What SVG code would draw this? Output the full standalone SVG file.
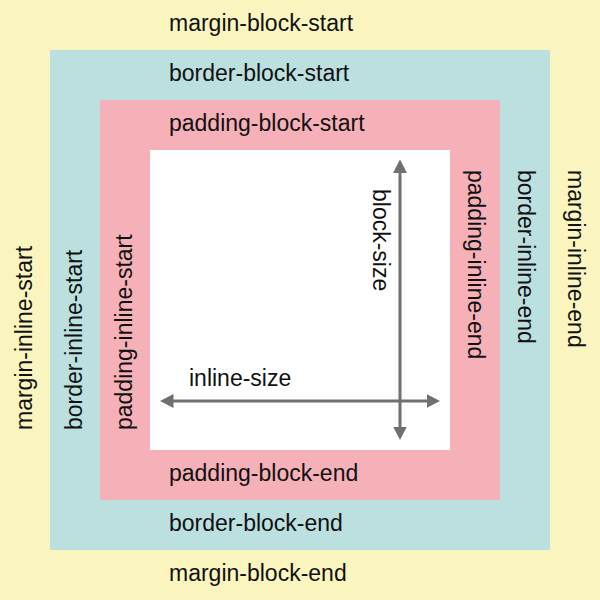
<svg xmlns="http://www.w3.org/2000/svg" width="600" height="600" viewBox="0 0 600 600">
  <style>
    text { font-family: "Liberation Sans", Arial, sans-serif; font-size: 23px; fill: #111111; }
    .arrow { stroke: #707070; stroke-width: 3; fill: none; }
  </style>
  <defs>
    <marker id="head" viewBox="0 0 14 14" markerUnits="userSpaceOnUse" markerWidth="14" markerHeight="14" refX="6.5" refY="7" orient="auto-start-reverse">
      <path d="M0,0 L13.5,7 L0,14 z" fill="#707070"/>
    </marker>
  </defs>

  <g id="margin">
    <rect x="0" y="0" width="600" height="600" fill="#FAF5BF"/>
    <text x="169" y="31">margin-block-start</text>
    <text x="169" y="581">margin-block-end</text>
    <text transform="translate(32,430) rotate(-90)">margin-inline-start</text>
    <text transform="translate(568,170) rotate(90)">margin-inline-end</text>
  </g>

  <g id="border">
    <rect x="50" y="50" width="500" height="500" fill="#BCE0E0"/>
    <text x="169" y="81">border-block-start</text>
    <text x="169" y="531">border-block-end</text>
    <text transform="translate(82,430) rotate(-90)">border-inline-start</text>
    <text transform="translate(518,170) rotate(90)">border-inline-end</text>
  </g>

  <g id="padding">
    <rect x="100" y="100" width="400" height="400" fill="#F5B0B8"/>
    <text x="169" y="131">padding-block-start</text>
    <text x="169" y="481">padding-block-end</text>
    <text transform="translate(132,430) rotate(-90)">padding-inline-start</text>
    <text transform="translate(468,170) rotate(90)">padding-inline-end</text>
  </g>

  <g id="content">
    <rect x="150" y="150" width="300" height="300" fill="#FFFFFF"/>
    <text x="189" y="386">inline-size</text>
    <text transform="translate(373,189) rotate(90)">block-size</text>
  </g>

  <g id="connectors">
    <line class="arrow" x1="167" y1="401" x2="433" y2="401" marker-start="url(#head)" marker-end="url(#head)"/>
    <line class="arrow" x1="400" y1="166.5" x2="400" y2="433" marker-start="url(#head)" marker-end="url(#head)"/>
  </g>
</svg>
